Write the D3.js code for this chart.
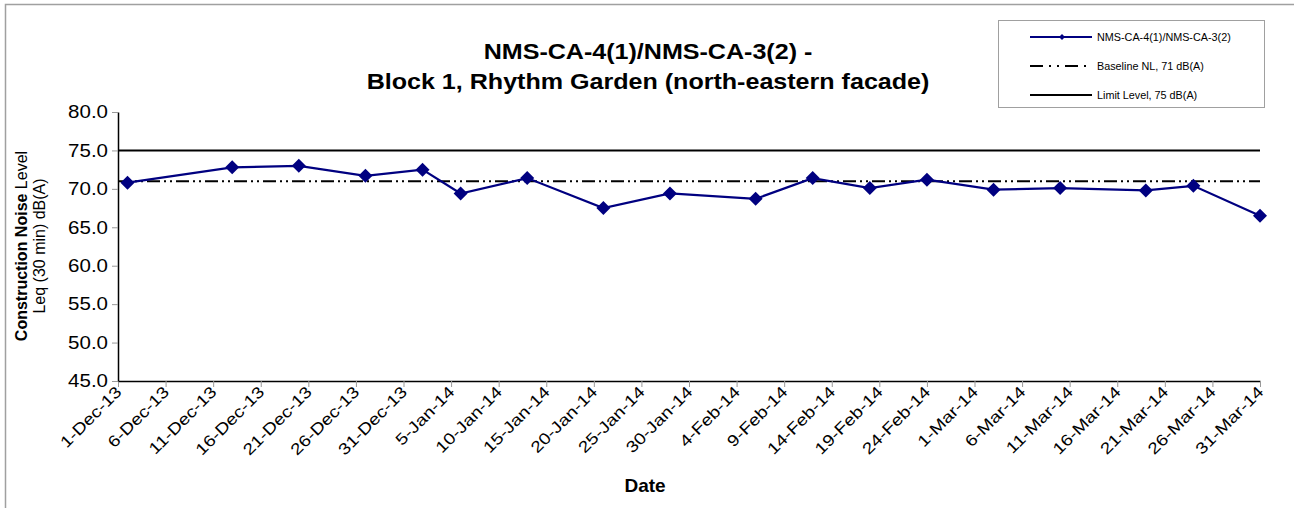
<!DOCTYPE html>
<html>
<head>
<meta charset="utf-8">
<script src="https://cdn.jsdelivr.net/npm/d3@7"></script>
<style>
body { margin: 0; background: #fff; }
svg { font-family: "Liberation Sans", Arial, sans-serif; }
</style>
</head>
<body>
<svg width="1294" height="508"></svg>
<script>
const WIDTH = 1294
const HEIGHT = 508
const LEFT = 118
const RIGHT = 1260
const TOP = 112
const BOTTOM = 381

// measurement dates and Leq values
const dates = ["2013-12-02", "2013-12-13", "2013-12-20", "2013-12-27", "2014-01-02",
    "2014-01-06", "2014-01-13", "2014-01-21", "2014-01-28", "2014-02-06",
    "2014-02-12", "2014-02-18", "2014-02-24", "2014-03-03", "2014-03-10",
    "2014-03-19", "2014-03-24", "2014-03-31"]
const levels = [70.8, 72.8, 73.0, 71.7, 72.5, 69.4, 71.4, 67.5, 69.4, 68.7,
    71.4, 70.1, 71.2, 69.9, 70.1, 69.8, 70.4, 66.5]
const baseline = 71
const limit = 75
const yTicks = [45, 50, 55, 60, 65, 70, 75, 80]
const legendLabels = ["NMS-CA-4(1)/NMS-CA-3(2)", "Baseline NL, 71 dB(A)", "Limit Level, 75 dB(A)"]

const parse = d3.utcParse("%Y-%m-%d")
const start = parse("2013-12-01")
const end = parse("2014-03-31")

const svg = d3.select("svg")

// outer frame (only left & top visible)
svg.append("path")
    .attr("d", "M5.5," + HEIGHT + "V4.5H" + WIDTH)
    .attr("fill", "none")
    .attr("stroke", "#a0a0a0")
    .attr("stroke-width", 1.5)

const x = d3.scaleUtc().domain([start, end]).range([LEFT, RIGHT])
const y = d3.scaleLinear().domain([45, 80]).range([BOTTOM, TOP])

const xTicks = d3.utcDay.range(start, d3.utcDay.offset(end, 1), 5)
const fmt = d3.utcFormat("%-d-%b-%y")

// x axis
const xAxis = svg.append("g")
    .attr("transform", "translate(0," + BOTTOM + ")")
    .call(d3.axisBottom(x).tickValues(xTicks).tickFormat(fmt).tickSize(6).tickSizeOuter(0))
xAxis.select(".domain").attr("stroke", "#000").attr("stroke-width", 1.5)
xAxis.selectAll(".tick line").attr("stroke", "#999")
xAxis.selectAll("text")
    .attr("font-size", 16)
    .attr("fill", "#000")
    .attr("text-anchor", "end")
    .attr("x", 0).attr("y", 0).attr("dy", 0)
    .attr("transform", "translate(4,12) rotate(-45) scale(1.2,1)")

// y axis
const yAxis = svg.append("g")
    .attr("transform", "translate(" + LEFT + ",0)")
    .call(d3.axisLeft(y).tickValues(yTicks).tickFormat(d3.format(".1f")).tickSize(6).tickSizeOuter(0))
yAxis.select(".domain").attr("stroke", "#000").attr("stroke-width", 1.5)
yAxis.selectAll(".tick line").attr("stroke", "#999")
yAxis.selectAll("text")
    .attr("font-size", 18).attr("fill", "#000")
    .attr("x", 0)
    .attr("transform", "translate(-10,0) scale(1.14,1)")

// limit & baseline
svg.append("line")
    .attr("x1", LEFT).attr("x2", RIGHT)
    .attr("y1", y(limit)).attr("y2", y(limit))
    .attr("stroke", "#000").attr("stroke-width", 2)

svg.append("line")
    .attr("x1", LEFT).attr("x2", RIGHT)
    .attr("y1", y(baseline)).attr("y2", y(baseline))
    .attr("stroke", "#000").attr("stroke-width", 2)
    .attr("stroke-dasharray", "13,4,2,4,2,4")

// series
const pts = dates.map((d, i) => ({ date: parse(d), v: levels[i] }))
svg.append("path")
    .datum(pts)
    .attr("fill", "none")
    .attr("stroke", "#000080")
    .attr("stroke-width", 2.2)
    .attr("d", d3.line().x(d => x(d.date)).y(d => y(d.v)))

svg.selectAll("path.marker")
    .data(pts)
    .enter().append("path")
    .classed("marker", true)
    .attr("d", "M0,-7L7,0L0,7L-7,0Z")
    .attr("fill", "#000080")
    .attr("transform", d => "translate(" + x(d.date) + "," + y(d.v) + ")")

// title
const titleLines = ["NMS-CA-4(1)/NMS-CA-3(2) -", "Block 1, Rhythm Garden (north-eastern facade)"]
svg.selectAll("text.title")
    .data(titleLines)
    .enter().append("text")
    .classed("title", true)
    .attr("text-anchor", "middle")
    .attr("font-size", 22)
    .attr("font-weight", "bold")
    .attr("transform", (d, i) => "translate(648," + (59 + i * 30) + ") scale(1.14,1)")
    .text(d => d)

// axis titles
svg.append("text")
    .attr("x", 645).attr("y", 492)
    .attr("text-anchor", "middle")
    .attr("font-size", 19).attr("font-weight", "bold")
    .text("Date")

const yt = svg.append("text")
    .attr("transform", "translate(27,246) rotate(-90)")
    .attr("text-anchor", "middle")
    .attr("font-size", 16)
yt.append("tspan").attr("x", 0).attr("y", 0).attr("font-weight", "bold").text("Construction Noise")
yt.append("tspan").text(" Level")
yt.append("tspan").attr("x", 0).attr("y", 18).text("Leq (30 min) dB(A)")

// legend
const lg = svg.append("g")
lg.append("rect")
    .attr("x", 998.5).attr("y", 20.5)
    .attr("width", 266).attr("height", 87)
    .attr("fill", "#fff").attr("stroke", "#a0a0a0")

const rows = lg.selectAll("g.item")
    .data(legendLabels)
    .enter().append("g")
    .classed("item", true)
    .attr("transform", (d, i) => "translate(0," + (37 + i * 29) + ")")

rows.append("line")
    .attr("x1", 1030).attr("x2", 1092)
    .attr("stroke", (d, i) => i === 0 ? "#000080" : "#000")
    .attr("stroke-width", 2)
    .attr("stroke-dasharray", (d, i) => i === 1 ? "13,6,2,6,2,6" : null)

rows.filter((d, i) => i === 0).append("path")
    .attr("d", "M0,-3L3,0L0,3L-3,0Z")
    .attr("fill", "#000080")
    .attr("transform", "translate(1062,0)")

rows.append("text")
    .attr("x", 1097).attr("dy", "0.35em")
    .attr("font-size", 10.8)
    .text(d => d)
</script>
</body>
</html>
